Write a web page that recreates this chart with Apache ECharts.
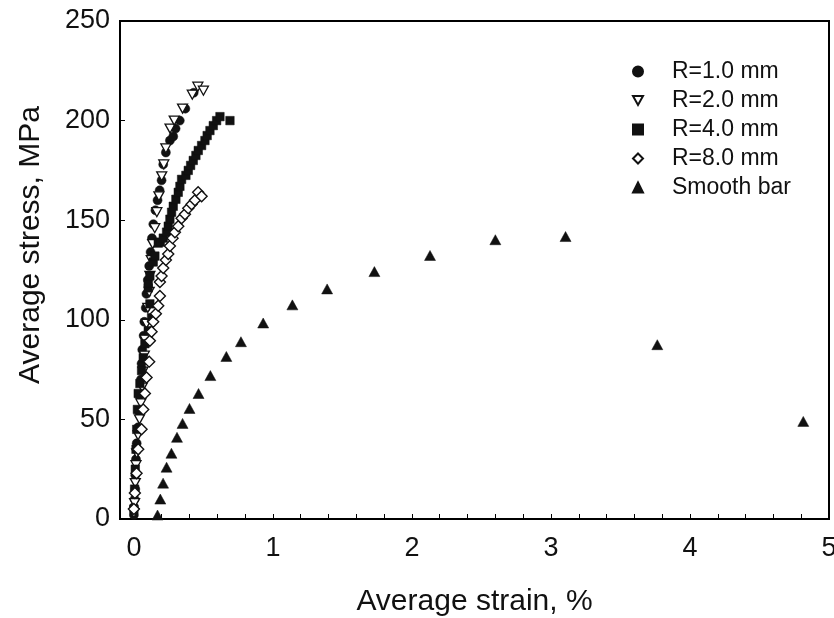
<!DOCTYPE html>
<html>
<head>
<meta charset="utf-8">
<script src="https://cdn.jsdelivr.net/npm/echarts@6/dist/echarts.min.js"></script>
<style>html,body{margin:0;padding:0;background:#fff}#c{width:834px;height:618px}</style>
</head>
<body>
<div id="c"></div>
<script>
// ---- data ----
var seriesNames = ['R=1.0 mm', 'R=2.0 mm', 'R=4.0 mm', 'R=8.0 mm', 'Smooth bar'];

var r1Strain = [0, 0, 0.005, 0.01, 0.01, 0.015, 0.02, 0.03, 0.035, 0.04, 0.05, 0.055, 0.06, 0.07, 0.075, 0.085, 0.09, 0.1, 0.11, 0.12, 0.13, 0.14, 0.155, 0.17, 0.185, 0.199, 0.211, 0.23, 0.259, 0.283, 0.30, 0.33, 0.37, 0.43];
var r1Stress = [2, 6, 10, 15, 22, 30, 38, 46, 54, 62, 70, 78, 85, 92, 99, 106, 113, 120, 127, 134, 141, 148, 155, 160, 165, 170, 178, 184, 190, 192, 196, 200, 206, 214];

var r2Strain = [0, 0.005, 0.01, 0.015, 0.02, 0.03, 0.04, 0.05, 0.06, 0.065, 0.075, 0.08, 0.09, 0.1, 0.11, 0.115, 0.125, 0.135, 0.15, 0.165, 0.18, 0.2, 0.215, 0.23, 0.26, 0.29, 0.35, 0.42, 0.46, 0.5];
var r2Stress = [3, 8, 18, 27, 33, 42, 50, 58, 66, 74, 82, 90, 98, 106, 114, 122, 130, 138, 146, 154, 162, 172, 178, 186, 196, 200, 206, 213, 217, 215];

var r4Strain = [0, 0.005, 0.01, 0.015, 0.02, 0.025, 0.031, 0.043, 0.055, 0.067, 0.079, 0.103, 0.127, 0.115, 0.103, 0.103, 0.115, 0.139, 0.151, 0.175, 0.19, 0.211, 0.235, 0.247, 0.259, 0.271, 0.283, 0.302, 0.319, 0.331, 0.343, 0.374, 0.391, 0.408, 0.427, 0.446, 0.463, 0.487, 0.511, 0.527, 0.547, 0.571, 0.595, 0.619, 0.691];
var r4Stress = [5, 15, 25, 35, 45, 55, 63, 68, 74.5, 81, 88, 94.5, 101, 108, 116, 118.5, 122, 129, 132, 138.5, 139, 141, 144, 147, 150.5, 154, 157, 160.5, 164, 167, 170.5, 172.5, 175, 177.5, 180, 182.5, 185, 187.5, 190, 192.5, 195, 197.5, 200, 202, 200];

var r8Strain = [0, 0.007, 0.019, 0.031, 0.055, 0.067, 0.079, 0.091, 0.11, 0.115, 0.127, 0.139, 0.158, 0.175, 0.187, 0.187, 0.199, 0.211, 0.23, 0.247, 0.259, 0.278, 0.295, 0.319, 0.343, 0.367, 0.391, 0.415, 0.439, 0.462, 0.487];
var r8Stress = [5, 13, 23, 35, 45, 55, 63, 71, 79, 89.5, 94, 99, 103, 107, 112, 119, 122, 126, 130, 133, 137, 141, 144, 147, 151, 153, 156, 158, 160, 164, 162];

var sbStrain = [0.17, 0.19, 0.21, 0.235, 0.27, 0.31, 0.35, 0.40, 0.465, 0.55, 0.665, 0.77, 0.93, 1.14, 1.39, 1.73, 2.13, 2.60, 3.105, 3.765, 4.815];
var sbStress = [2, 10, 18, 26, 33, 41, 48, 55.5, 63, 72, 81.6, 89, 98.4, 107.5, 115.5, 124.2, 132.3, 140.2, 141.8, 87.5, 49];

var xTickValues = [0, 0.2, 0.4, 0.6, 0.8, 1, 1.2, 1.4, 1.6, 1.8, 2, 2.2, 2.4, 2.6, 2.8, 3, 3.2, 3.4, 3.6, 3.8, 4, 4.2, 4.4, 4.6, 4.8, 5];
var xTickLabels = [0, 1, 2, 3, 4, 5];
var yTickLabels = [0, 50, 100, 150, 200, 250];

// ---- chart ----
function pairs(xs, ys) { return xs.map(function (x, i) { return [x, ys[i]]; }); }
var FONT = '"Liberation Sans", Arial, sans-serif';
var triDown = 'path://M0,0 L10,0 L5,9 Z';

var chart = echarts.init(document.getElementById('c'), null, { renderer: 'canvas' });
chart.setOption({
  animation: false,
  backgroundColor: '#fff',
  grid: { left: 120, right: 5, top: 21, bottom: 99, outerBoundsMode: 'none', containLabel: false,
    show: true, borderColor: '#000', borderWidth: 2, backgroundColor: 'transparent' },
  legend: {
    orient: 'vertical', left: 627, top: 55,
    itemWidth: 10, itemHeight: 10, itemGap: 6,
    textStyle: { fontFamily: FONT, fontSize: 23, color: '#111', padding: [0, 0, 0, 24], lineHeight: 20 },
    data: [
      { name: seriesNames[0], icon: 'circle' },
      { name: seriesNames[1], icon: triDown },
      { name: seriesNames[2], icon: 'rect' },
      { name: seriesNames[3], icon: 'diamond' },
      { name: seriesNames[4], icon: 'triangle' }
    ]
  },
  xAxis: {
    type: 'value', min: -0.1, max: 5,
    axisLine: { show: true, onZero: false, lineStyle: { color: '#000', width: 2 } },
    axisTick: { show: true, inside: true, length: 5, customValues: xTickValues, lineStyle: { color: '#000', width: 1 } },
    axisLabel: { customValues: xTickLabels, fontFamily: FONT, fontSize: 27, color: '#111', margin: 16 },
    splitLine: { show: false },
    name: 'Average strain, %', nameLocation: 'middle', nameGap: 68,
    nameTextStyle: { fontFamily: FONT, fontSize: 30, color: '#111' }
  },
  yAxis: {
    type: 'value', min: 0, max: 250, interval: 50,
    axisLine: { show: true, onZero: false, lineStyle: { color: '#000', width: 2 } },
    axisTick: { show: true, inside: true, length: 5, lineStyle: { color: '#000', width: 1 } },
    axisLabel: { fontFamily: FONT, fontSize: 27, color: '#111', margin: 10,
      formatter: function (v) { return yTickLabels.indexOf(v) >= 0 ? String(v) : ''; } },
    splitLine: { show: false },
    name: 'Average stress, MPa', nameLocation: 'middle', nameGap: 74,
    nameTextStyle: { fontFamily: FONT, fontSize: 30, color: '#111', padding: [0, 0, 0, 50] }
  },
  series: [
    { name: seriesNames[0], type: 'scatter', data: pairs(r1Strain, r1Stress), symbol: 'circle', symbolSize: 9,
      itemStyle: { color: '#111', borderColor: '#111', borderWidth: 0.5, opacity: 1 } },
    { name: seriesNames[1], type: 'scatter', data: pairs(r2Strain, r2Stress), symbol: triDown, symbolSize: [10, 9],
      itemStyle: { color: '#fff', borderColor: '#111', borderWidth: 1.3, opacity: 1 } },
    { name: seriesNames[2], type: 'scatter', data: pairs(r4Strain, r4Stress), symbol: 'rect', symbolSize: 8.5,
      itemStyle: { color: '#111', borderColor: '#111', borderWidth: 0.5, opacity: 1 } },
    { name: seriesNames[3], type: 'scatter', data: pairs(r8Strain, r8Stress), symbol: 'diamond', symbolSize: [11, 11],
      itemStyle: { color: '#fff', borderColor: '#111', borderWidth: 1.4, opacity: 1 } },
    { name: seriesNames[4], type: 'scatter', data: pairs(sbStrain, sbStress), symbol: 'triangle', symbolSize: [11, 10],
      itemStyle: { color: '#111', borderColor: '#111', borderWidth: 0.5, opacity: 1 } }
  ]
});
</script>
</body>
</html>
